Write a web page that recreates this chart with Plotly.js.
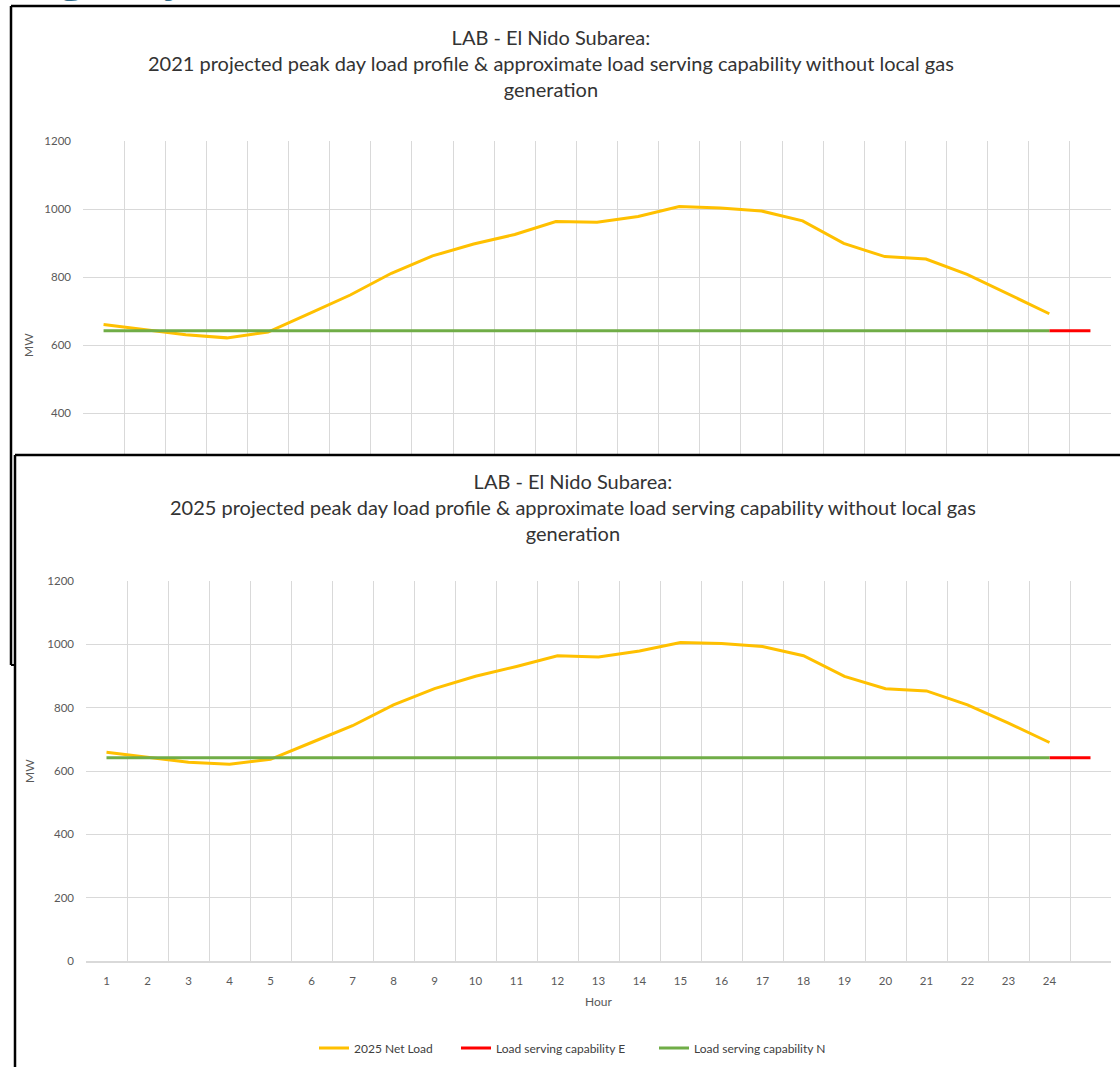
<!DOCTYPE html>
<html>
<head>
<meta charset="utf-8">
<script src="https://cdn.plot.ly/plotly-3.0.1.min.js"></script>
<style>
  html, body { margin: 0; padding: 0; background: #ffffff; }
  #chart { width: 1120px; height: 1067px; }
</style>
</head>
<body>
<div id="chart"></div>
<script>
// Hour categories; the blank last slot carries the tail of the E capability line.
const hours = ['1','2','3','4','5','6','7','8','9','10','11','12',
               '13','14','15','16','17','18','19','20','21','22','23','24'];
const tailSlot = ' ';

// Projected peak-day net load (MW)
const netLoad2021 = [660, 645, 630, 621, 638, 692, 747, 811, 862, 897, 925, 963,
                     961, 978, 1007, 1003, 994, 965, 899, 860, 853, 808, 750, 692];
const netLoad2025 = [659, 643, 628, 621, 637, 690, 743, 809, 860, 899, 930, 964,
                     960, 979, 1006, 1003, 993, 964, 899, 860, 853, 809, 751, 690];

// Approximate load serving capability (MW)
const capabilityN = [642, 642, 642, 642, 642, 642, 642, 642, 642, 642, 642, 642,
                     642, 642, 642, 642, 642, 642, 642, 642, 642, 642, 642, 642];
const capabilityEHours = ['24', tailSlot];
const capabilityE = [642, 642];

const yTicks = [0, 200, 400, 600, 800, 1000, 1200];

const W = 1120, H = 1067;
const px = v => v / W;
const py = v => 1 - v / H;

const YELLOW = '#FFC000', RED = '#FF0000', GREEN = '#70AD47';
const GRID = '#d9d9d9', TXT = '#595959';
const FONT = 'Lato, "Open Sans", sans-serif';

const allCats = hours.concat([tailSlot]);

function lineTrace(x, y, color, name, xa, ya, legendId) {
  return {
    type: 'scatter', mode: 'lines', x: x, y: y, name: name,
    xaxis: xa, yaxis: ya, showlegend: !!legendId, legend: legendId || 'legend',
    line: { color: color, width: 3 }, hoverinfo: 'x+y'
  };
}

const data = [
  // 2021 panel
  lineTrace(hours, netLoad2021, YELLOW, '2021 Net Load', 'x', 'y', null),
  lineTrace(capabilityEHours, capabilityE, RED, 'Load serving capability E', 'x', 'y', null),
  lineTrace(hours, capabilityN, GREEN, 'Load serving capability N', 'x', 'y', null),
  // 2025 panel
  lineTrace(hours, netLoad2025, YELLOW, '2025 Net Load', 'x2', 'y2', 'legend'),
  lineTrace(capabilityEHours, capabilityE, RED, 'Load serving capability E', 'x2', 'y2', 'legend2'),
  lineTrace(hours, capabilityN, GREEN, 'Load serving capability N', 'x2', 'y2', 'legend3')
];

function catAxis(domain, anchor, showLabels) {
  return {
    domain: domain, anchor: anchor, type: 'category',
    categoryorder: 'array', categoryarray: allCats,
    range: [-0.5, allCats.length - 0.5],
    tickson: 'boundaries', showgrid: true, gridcolor: GRID, gridwidth: 1,
    ticks: '', showticklabels: showLabels, zeroline: false,
    tickfont: { family: FONT, size: 11.5, color: TXT },
    ticklabelstandoff: 9, fixedrange: true
  };
}

function valAxis(domain, anchor, range) {
  return {
    domain: domain, anchor: anchor, range: range,
    tickmode: 'array', tickvals: yTicks, ticktext: yTicks.map(String),
    showgrid: true, gridcolor: GRID, gridwidth: 1, zeroline: false,
    ticks: '', tickfont: { family: FONT, size: 11.5, color: TXT },
    ticklabelstandoff: 11, fixedrange: true
  };
}

function legendAt(x) {
  return {
    orientation: 'h', x: px(x), y: py(1048), xanchor: 'left', yanchor: 'middle',
    font: { family: FONT, size: 12, color: '#404040' },
    itemwidth: 30, bgcolor: 'rgba(0,0,0,0)', borderwidth: 0
  };
}

const titleFont = { family: FONT, size: 20, color: '#333333' };
const axisFont = { family: FONT, size: 12, color: TXT };

const layout = {
  width: W, height: H,
  margin: { l: 0, r: 0, t: 0, b: 0 },
  paper_bgcolor: '#ffffff', plot_bgcolor: 'rgba(0,0,0,0)',
  font: { family: FONT, color: TXT },
  xaxis: catAxis([px(83), px(1111)], 'y', false),
  yaxis: valAxis([py(455), py(141)], 'x', [276.5, 1200]),
  xaxis2: Object.assign(catAxis([px(86), px(1111)], 'y2', true),
                        { showline: true, linecolor: GRID, linewidth: 1.5 }),
  yaxis2: valAxis([py(961), py(581)], 'x2', [0, 1200]),
  showlegend: true,
  legend: legendAt(314),
  legend2: legendAt(456),
  legend3: legendAt(654),
  annotations: [
    // slide heading above the panels, cut off by the page edge
    { xref: 'paper', yref: 'paper', x: px(57), y: py(6), xanchor: 'left', yanchor: 'bottom',
      showarrow: false, font: { family: '"Open Sans", sans-serif', size: 48, color: '#2E6A8A' },
      text: 'gency' },
    { xref: 'paper', yref: 'paper', x: px(551), y: py(63), xanchor: 'center', yanchor: 'middle',
      showarrow: false, font: titleFont, align: 'center',
      text: 'LAB - El Nido Subarea:<br>2021 projected peak day load profile &amp; approximate load serving capability without local gas<br>generation' },
    { xref: 'paper', yref: 'paper', x: px(573), y: py(507), xanchor: 'center', yanchor: 'middle',
      showarrow: false, font: titleFont, align: 'center',
      text: 'LAB - El Nido Subarea:<br>2025 projected peak day load profile &amp; approximate load serving capability without local gas<br>generation' },
    { xref: 'paper', yref: 'paper', x: px(29), y: py(345), xanchor: 'center', yanchor: 'middle',
      showarrow: false, textangle: -90, font: axisFont, text: 'MW' },
    { xref: 'paper', yref: 'paper', x: px(29), y: py(771), xanchor: 'center', yanchor: 'middle',
      showarrow: false, textangle: -90, font: axisFont, text: 'MW' },
    { xref: 'paper', yref: 'paper', x: px(598), y: py(1001), xanchor: 'center', yanchor: 'middle',
      showarrow: false, font: axisFont, text: 'Hour' }
  ],
  shapes: [
    // frame of the 2021 panel
    { type: 'line', xref: 'paper', yref: 'paper', layer: 'above',
      x0: px(11), x1: px(1125), y0: py(6), y1: py(6), line: { color: '#000', width: 2.5 } },
    { type: 'line', xref: 'paper', yref: 'paper', layer: 'above',
      x0: px(11), x1: px(11), y0: py(6), y1: py(665), line: { color: '#000', width: 2.5 } },
    { type: 'line', xref: 'paper', yref: 'paper', layer: 'above',
      x0: px(11), x1: px(15), y0: py(665), y1: py(665), line: { color: '#000', width: 2 } },
    // frame of the 2025 panel
    { type: 'line', xref: 'paper', yref: 'paper', layer: 'above',
      x0: px(15), x1: px(1125), y0: py(455), y1: py(455), line: { color: '#000', width: 2.5 } },
    { type: 'line', xref: 'paper', yref: 'paper', layer: 'above',
      x0: px(15), x1: px(15), y0: py(455), y1: py(1075), line: { color: '#000', width: 2.5 } }
  ]
};

Plotly.newPlot('chart', data, layout, { displayModeBar: false, staticPlot: true });
</script>
</body>
</html>
